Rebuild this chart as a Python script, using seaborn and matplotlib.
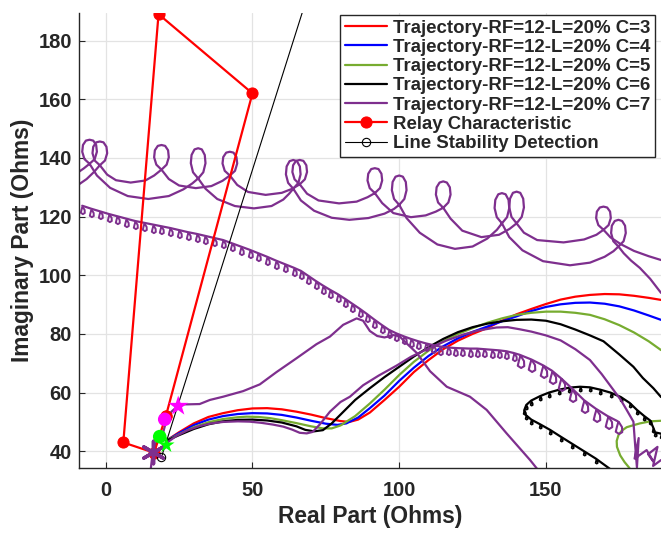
import numpy as np
import matplotlib
matplotlib.use("Agg")
import matplotlib.pyplot as plt
from matplotlib.path import Path
import seaborn as sns

# ---------------- data ----------------
RED_X = [20.5, 25, 30, 35, 40, 45, 50, 55, 60, 65, 70, 75, 80, 83, 86, 90, 95, 100, 105, 110, 115, 120, 125, 130, 135, 140, 145, 150, 155, 160, 165, 170, 175, 180, 185, 189.2]
RED_Y = [43.5, 46.5, 49.5, 51.7, 53.0, 54.0, 54.6, 54.7, 54.3, 53.5, 52.5, 51.3, 50.3, 50.0, 50.8, 53.2, 57.5, 62.0, 67.0, 71.1, 74.8, 77.7, 80.0, 82.0, 84.5, 86.7, 88.5, 90.2, 91.7, 92.7, 93.3, 93.6, 93.5, 93.0, 92.3, 91.6]

BLUE_X = [20.5, 25, 30, 35, 40, 45, 50, 55, 60, 65, 70, 75, 79, 82, 86, 90, 95, 100, 105, 110, 115, 120, 125, 130, 135, 140, 145, 150, 155, 160, 165, 170, 175, 180, 185, 189.2]
BLUE_Y = [43.5, 46.2, 48.9, 50.8, 52.0, 52.7, 53.0, 52.9, 52.4, 51.5, 50.4, 49.4, 49.0, 49.5, 51.5, 54.7, 59.0, 64.0, 68.5, 72.5, 75.8, 78.5, 80.7, 82.5, 84.3, 86.0, 87.8, 89.2, 90.1, 90.6, 90.7, 90.3, 89.4, 88.0, 86.3, 84.8]

GREEN_X = [20.5, 25, 30, 35, 40, 45, 48, 52, 56, 60, 65, 70, 74, 77, 80, 85, 90, 95, 100, 105, 110, 115, 120, 125, 130, 135, 140, 145, 150, 155, 160, 165, 170, 175, 180, 185, 189.2]
GREEN_Y = [43.5, 45.8, 48.2, 49.9, 51.0, 51.6, 51.8, 51.7, 51.3, 50.6, 49.6, 48.5, 47.8, 47.8, 48.8, 52.0, 56.3, 61.0, 66.0, 70.5, 74.3, 77.5, 80.0, 82.0, 83.8, 85.3, 86.5, 87.2, 87.6, 87.6, 87.2, 86.5, 85.0, 83.0, 80.5, 77.5, 74.5]

BLACK_X = [20.5, 25, 30, 35, 40, 45, 50, 55, 60, 65, 68, 71, 74, 77, 80, 85, 90, 95, 100, 105, 110, 115, 120, 125, 130, 135, 140, 145, 150, 155, 160, 165, 169.6, 175, 179.8, 183, 186.6, 189.2]
BLACK_Y = [43.5, 45.5, 47.6, 49.2, 50.2, 50.7, 50.8, 50.5, 49.8, 48.5, 47.3, 46.8, 47.2, 49.5, 52.5, 57.5, 61.5, 65.3, 68.8, 72.3, 75.5, 78.3, 80.6, 82.3, 83.5, 84.3, 84.8, 84.9, 84.5, 83.3, 81.5, 79.5, 77.5, 73.0, 68.8, 65.0, 61.5, 58.5]

# C=7 main trajectory
PURPLE_X = [21, 24, 28, 32, 36, 40, 45, 49, 53, 57, 60.5, 63.5, 66.1, 68.5, 70.5, 73, 76.4, 80, 83.2, 87.7, 93, 99.1, 104, 110.5, 116, 121.8, 127, 133.2, 137, 141, 145, 150, 155, 160, 165, 169, 173, 175.5, 177.5, 179.8, 180.4, 181.0, 181.6, 180.2, 184.3, 186.6, 184.8, 188.0, 186.5, 189.2]
PURPLE_Y = [43, 45.2, 47.2, 48.6, 49.5, 50.0, 50.2, 50.1, 49.7, 49.1, 48.4, 47.4, 46.3, 46.1, 46.6, 49.2, 53.5, 56.8, 58.6, 62.5, 65.8, 69.2, 72.2, 75.3, 77.7, 79.8, 81.2, 82.2, 82.3, 81.6, 80.8, 79.5, 77.8, 74.8, 71.1, 66.3, 60.9, 57.5, 54.1, 50.1, 42.0, 34.5, 44.5, 37.5, 40.4, 36.5, 39.0, 41.5, 35.0, 37.0]

# C=7 second trajectory (from the start markers)
PURPLE2_X = [15.3, 16.1, 17.5, 19.5, 20.7, 22.4, 25.2, 28, 32, 35.5, 40, 46.8, 52.5, 58.2, 65, 71.8, 76.4, 80.9, 85.5, 87.7, 90, 92.5, 95, 98, 100, 102.5, 106, 110.5, 116.2, 124.1, 129.8, 136.6, 144.6, 147]
PURPLE2_Y = [33.5, 40.4, 43.5, 46.1, 50.7, 53.5, 56.0, 56.0, 56.1, 57.5, 58.6, 60.5, 62.8, 67.0, 71.7, 76.5, 79.1, 83.1, 85.3, 84.5, 81.0, 79.3, 78.8, 79.6, 79.3, 76.8, 73.5, 67.3, 62.0, 58.6, 54.1, 46.1, 37.0, 34.0]

# C=7 looping trajectory (upper, shallow arcs)
LOOP_U = [(-9.1, 131.0), (-6.5, 132.8), (-4.0, 135.2),
          (-2.0, 137.5), (-0.25, 139.1), (0.5, 141.6), (0.25, 143.8), (-0.75, 145.3), (-2.0, 145.6), (-3.25, 145.3), (-4.25, 143.8), (-4.5, 141.6), (-3.75, 139.1), (-2.0, 137.5),
          (0.5, 134.3), (3.5, 132.4), (8.5, 131.6), (13.5, 132.3), (16.5, 134.0),
          (19.0, 136.0), (20.75, 137.7), (21.5, 140.2), (21.25, 142.6), (20.25, 144.1), (19.0, 144.4), (17.75, 144.1), (16.75, 142.6), (16.5, 140.2), (17.25, 137.7), (19.0, 136.0),
          (21.5, 132.8), (25.0, 130.6), (30.7, 129.7), (36.0, 130.4), (39.8, 132.2),
          (42.3, 134.0), (44.05, 135.6), (44.8, 138.1), (44.55, 140.3), (43.55, 141.8), (42.3, 142.1), (41.05, 141.8), (40.05, 140.3), (39.8, 138.1), (40.55, 135.6), (42.3, 134.0),
          (44.8, 130.8), (48.5, 128.4), (54.5, 127.4), (60.0, 128.1), (63.6, 129.5),
          (66.1, 131.0), (67.85, 132.7), (68.6, 135.2), (68.35, 137.5), (67.35, 139.0), (66.1, 139.3), (64.85, 139.0), (63.85, 137.5), (63.6, 135.2), (64.35, 132.7), (66.1, 131.0),
          (68.6, 127.8), (72.5, 125.5), (79.5, 124.5), (85.5, 125.1), (89.2, 126.6),
          (91.7, 128.0), (93.45, 129.7), (94.2, 132.3), (93.95, 134.6), (92.95, 136.2), (91.7, 136.5), (90.45, 136.2), (89.45, 134.6), (89.2, 132.3), (89.95, 129.7), (91.7, 128.0),
          (94.2, 124.6), (98.0, 121.2), (104.0, 119.8), (109.0, 120.4), (112.5, 121.7),
          (115.0, 123.0), (116.75, 124.8), (117.5, 127.5), (117.25, 130.0), (116.25, 131.6), (115.0, 132.0), (113.75, 131.6), (112.75, 130.0), (112.5, 127.5), (113.25, 124.8), (115.0, 123.0),
          (117.5, 119.3), (121.5, 115.2), (128.0, 113.0), (134.0, 113.8), (137.6, 115.8),
          (140.0, 117.7), (141.75, 119.9), (142.5, 123.1), (142.25, 126.1), (141.25, 128.1), (140.0, 128.5), (138.75, 128.1), (137.75, 126.1), (137.5, 123.1), (138.25, 119.9), (140.0, 117.7),
          (142.5, 114.5), (147.0, 112.0), (156.0, 111.2), (163.0, 112.2), (167.2, 113.8),
          (169.6, 115.5), (171.35, 117.1), (172.1, 119.5), (171.85, 121.7), (170.85, 123.1), (169.6, 123.4), (168.35, 123.1), (167.35, 121.7), (167.1, 119.5), (167.85, 117.1), (169.6, 115.5),
          (172.0, 112.9), (175.5, 110.6), (180.0, 108.3), (185.0, 106.5), (189.2, 105.2)]

# C=7 looping trajectory (lower, deep arcs)
LOOP_L = [(-9.1, 135.3), (-7.5, 136.4),
          (-5.5, 138.0), (-3.75, 139.6), (-3.0, 142.1), (-3.25, 144.4), (-4.25, 145.9), (-5.5, 146.2), (-6.75, 145.9), (-7.75, 144.4), (-8.0, 142.1), (-7.25, 139.6), (-5.5, 138.0),
          (-3.0, 134.0), (1.5, 129.8), (7.5, 127.0), (14.5, 126.0), (21.5, 127.0), (26.5, 129.3), (29.5, 131.3),
          (31.5, 133.0), (33.25, 135.1), (34.0, 138.2), (33.75, 141.0), (32.75, 142.9), (31.5, 143.3), (30.25, 142.9), (29.25, 141.0), (29.0, 138.2), (29.75, 135.1), (31.5, 133.0),
          (34.0, 129.5), (38.0, 126.0), (44.0, 123.6), (50.5, 122.8), (56.5, 123.6), (60.5, 125.8), (62.5, 127.8),
          (63.9, 129.5), (65.65, 131.5), (66.4, 134.4), (66.15, 137.1), (65.15, 138.9), (63.9, 139.3), (62.65, 138.9), (61.65, 137.1), (61.4, 134.4), (62.15, 131.5), (63.9, 129.5),
          (66.5, 125.5), (71.0, 122.0), (77.0, 119.6), (83.0, 118.9), (89.5, 119.5), (95.0, 121.0), (98.2, 122.6),
          (100.0, 124.0), (101.75, 126.0), (102.5, 129.0), (102.25, 131.8), (101.25, 133.6), (100.0, 134.0), (98.75, 133.6), (97.75, 131.8), (97.5, 129.0), (98.25, 126.0), (100.0, 124.0),
          (102.5, 119.5), (107.0, 114.5), (113.0, 110.5), (119.0, 109.0), (125.0, 109.8), (130.0, 112.5), (133.3, 115.5),
          (135.0, 117.7), (136.75, 119.8), (137.5, 122.9), (137.25, 125.7), (136.25, 127.6), (135.0, 128.0), (133.75, 127.6), (132.75, 125.7), (132.5, 122.9), (133.25, 119.8), (135.0, 117.7),
          (137.5, 113.0), (142.0, 108.5), (149.0, 104.8), (158.2, 103.4), (165.0, 104.3), (170.0, 106.3), (173.0, 108.2),
          (174.7, 109.8), (176.45, 111.6), (177.2, 114.4), (176.95, 116.9), (175.95, 118.5), (174.7, 118.9), (173.45, 118.5), (172.45, 116.9), (172.2, 114.4), (172.95, 111.6), (174.7, 109.8),
          (176.5, 107.5), (179.0, 105.0), (182.0, 102.5), (185.5, 98.8), (189.2, 94.0)]

# C=7 trajectory with small hanging loops (positions of the loops)
TEETH_X = [-8, -5, -2, 1, 4, 7, 10, 13, 16, 19, 22, 25, 28, 31, 34, 37, 40, 43, 46, 49, 52, 55, 58, 61, 64, 66.5, 69, 71.5, 74, 76.5, 79, 81.5, 84, 86.5, 89, 91.5, 94, 96.5, 99, 101.5, 104, 106.5, 109, 111.5, 114, 116.5, 119, 121.5, 124, 126.5, 129, 131.5, 134, 136.5, 139,
           141, 145, 149, 152, 155, 159, 163, 167, 171, 174.5]
TEETH_Y = [123.7, 122.7, 121.8, 120.9, 120.1, 119.3, 118.5, 117.9, 117.3, 116.7, 116.1, 115.4, 114.7, 114.1, 113.4, 112.7, 112.0, 110.9, 109.8, 108.7, 107.5, 106.3, 105.0, 103.8, 102.6, 101.5, 99.8, 98.1, 96.5, 95.0, 93.6, 92.0, 90.3, 88.6, 86.8, 84.9, 83.1, 81.4, 80.2, 79.2, 78.3, 77.5, 76.8, 76.2, 75.7, 75.4, 75.2, 75.1, 75.0, 75.0, 74.8, 74.6, 74.4, 74.1, 73.5,
           72.9, 71.3, 69.3, 67.5, 65.0, 61.3, 57.4, 54.5, 52.0, 50.2]

# C=6 second trajectory (toothed)
BLACK2_X = [172.5, 170.7, 167, 163, 159, 155, 151.4, 148, 145, 143.2, 142.6, 143.3, 145, 148, 151, 154.5, 158, 161.6, 165, 168.5, 172, 175.5, 178.5, 181, 183.5, 185.5, 186.6, 187, 189.2]
BLACK2_Y = [33.5, 34.8, 37.5, 40.0, 42.5, 45.0, 47.3, 49.2, 50.8, 52.3, 54.0, 55.8, 57.3, 58.8, 60.0, 61.0, 61.7, 62.0, 61.8, 61.0, 60.0, 58.5, 56.5, 54.1, 52.0, 50.5, 48.0, 46.5, 46.0]

# C=5 second trajectory
GREEN2_X = [189.2, 185.5, 182, 179.5, 177.5, 175.8, 174.7, 174.1, 174.2, 175.3, 176.8, 178.2, 179]
GREEN2_Y = [50.4, 50.2, 49.5, 48.8, 48.2, 47.0, 45.5, 43.5, 41.5, 38.6, 36.3, 34.6, 33.5]

RELAY_X = [20.5, 16.5, 6, 18, 50, 20.5]
RELAY_Y = [52, 39.5, 43, 189, 162, 52]

LSD_X = [19, 68]
LSD_Y = [38, 192.8]

LEGEND_LABELS = ["Trajectory-RF=12-L=20% C=3", "Trajectory-RF=12-L=20% C=4",
                 "Trajectory-RF=12-L=20% C=5", "Trajectory-RF=12-L=20% C=6",
                 "Trajectory-RF=12-L=20% C=7", "Relay Characteristic",
                 "Line Stability Detection"]
X_TICKS = [0, 50, 100, 150]
Y_TICKS = [40, 60, 80, 100, 120, 140, 160, 180]

# ---------------- style ----------------
sns.set_theme(style="whitegrid")
plt.rcParams['font.family'] = ['Liberation Sans', 'DejaVu Sans']
plt.rcParams['font.weight'] = 'bold'
plt.rcParams['axes.labelweight'] = 'bold'

C_RED, C_BLUE, C_GREEN, C_BLACK, C_PURPLE = "#ff0000", "#0000ff", "#77ac30", "#000000", "#7e2f8e"
LW = 1.6

fig = plt.figure(figsize=(6.61, 5.33), dpi=100)
ax = fig.add_axes([79 / 661, 1 - 468 / 533, (661 - 79) / 661, (468 - 12.7) / 533])
ax.set_facecolor("white")


def draw(x, y, **kw):
    kw.setdefault("markeredgecolor", kw.get("color"))
    sns.lineplot(x=x, y=y, sort=False, estimator=None, errorbar=None, ax=ax, **kw)
    return ax.lines[-1]


tooth = Path([(0, 0), (0.28, -0.45), (0.3, -0.85), (0.05, -1.0), (-0.22, -0.82), (-0.12, -0.4), (0, 0)])

h_red = draw(RED_X, RED_Y, color=C_RED, lw=LW)
h_blue = draw(BLUE_X, BLUE_Y, color=C_BLUE, lw=LW)
h_green = draw(GREEN_X, GREEN_Y, color=C_GREEN, lw=LW)
draw(GREEN2_X, GREEN2_Y, color=C_GREEN, lw=LW)
h_black = draw(BLACK_X, BLACK_Y, color=C_BLACK, lw=LW)
draw(BLACK2_X, BLACK2_Y, color=C_BLACK, lw=LW, marker=tooth, ms=6,
     markerfacecolor="none", markeredgewidth=1.2)
h_purple = draw(PURPLE_X, PURPLE_Y, color=C_PURPLE, lw=LW)
draw(PURPLE2_X, PURPLE2_Y, color=C_PURPLE, lw=LW)
draw([p[0] for p in LOOP_U], [p[1] for p in LOOP_U], color=C_PURPLE, lw=LW)
draw([p[0] for p in LOOP_L], [p[1] for p in LOOP_L], color=C_PURPLE, lw=LW)

n_small = sum(1 for v in TEETH_X if v < 140)
draw(TEETH_X, TEETH_Y, color=C_PURPLE, lw=LW, marker=tooth, ms=11,
     markevery=list(range(n_small)), markerfacecolor="none", markeredgewidth=1.4)
draw(TEETH_X, TEETH_Y, color=C_PURPLE, lw=0, marker=tooth, ms=18,
     markevery=list(range(n_small, len(TEETH_X))), markerfacecolor="none", markeredgewidth=1.5)

h_relay = draw(RELAY_X, RELAY_Y, color=C_RED, lw=LW, marker="o", ms=8, markerfacecolor=C_RED)
h_lsd = draw(LSD_X, LSD_Y, color="black", lw=0.8, marker="o", ms=6, markevery=[0],
             markerfacecolor="none", markeredgewidth=0.8)

# start / end markers
sns.scatterplot(x=[16.1], y=[39.9], marker=(6, 2, 0), s=260, color=C_PURPLE, linewidth=2.5, ax=ax, zorder=5)
sns.scatterplot(x=[18.4], y=[45.0], marker="o", s=95, color="#00ff00", edgecolor="none", ax=ax, zorder=5)
sns.scatterplot(x=[20.7], y=[42.1], marker="*", s=150, color="#00ff00", edgecolor="none", ax=ax, zorder=5)
sns.scatterplot(x=[20.1], y=[50.9], marker="o", s=95, color="#ff00ff", edgecolor="none", ax=ax, zorder=5)
sns.scatterplot(x=[24.7], y=[55.4], marker="*", s=230, color="#ff00ff", edgecolor="none", ax=ax, zorder=5)

# ---------------- axes ----------------
ax.set_xlim(-9.1, 189.2)
ax.set_ylim(34.3, 189.5)
ax.set_xticks(X_TICKS)
ax.set_yticks(Y_TICKS)
ax.grid(True, color="#e3e3e3", lw=0.9)
for s in ["top", "right"]:
    ax.spines[s].set_visible(False)
for s in ["left", "bottom"]:
    ax.spines[s].set_visible(True)
    ax.spines[s].set_color("#262626")
    ax.spines[s].set_linewidth(1.0)
ax.tick_params(axis="both", direction="in", length=4.5, width=0.8, color="#262626",
               labelsize=14.5, labelcolor="#262626", left=True, bottom=True)
ax.tick_params(axis="x", pad=9)
ax.tick_params(axis="y", pad=5)
for lab in ax.get_xticklabels() + ax.get_yticklabels():
    lab.set_fontweight("bold")
ax.set_xlabel("Real Part (Ohms)", fontsize=16.4, fontweight="bold", color="#262626", labelpad=4)
ax.set_ylabel("Imaginary Part (Ohms)", fontsize=16.4, fontweight="bold", color="#262626", labelpad=3)

leg = ax.legend([h_red, h_blue, h_green, h_black, h_purple, h_relay, h_lsd], LEGEND_LABELS,
                loc="upper right", bbox_to_anchor=(0.9897, 0.995), borderaxespad=0,
                prop={"size": 13.4, "weight": "bold"}, frameon=True, fancybox=False,
                edgecolor="#262626", framealpha=1, handlelength=2.3, handletextpad=0.3,
                labelspacing=0.12, borderpad=0.25)
leg.get_frame().set_linewidth(1.0)
leg.set_zorder(10)

fig.savefig("out.png", dpi=100)
